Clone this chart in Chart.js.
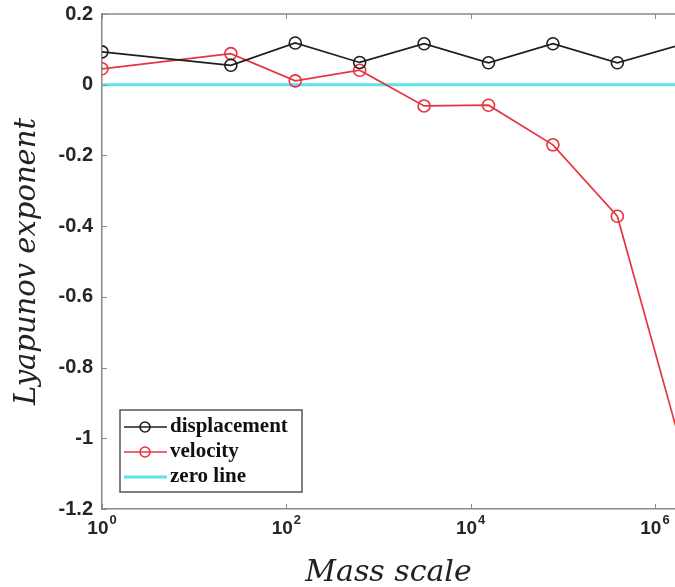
<!DOCTYPE html>
<html>
<head>
<meta charset="utf-8">
<script src="https://cdn.jsdelivr.net/npm/chart.js@4.4.1/dist/chart.umd.min.js"></script>
<style>
  html, body { margin: 0; padding: 0; background: #ffffff; overflow: hidden; }
  #wrap { width: 675px; height: 587px; }
</style>
</head>
<body>
<div id="wrap"><canvas id="c" width="675" height="587"></canvas></div>
<script>
// ---- data ----
const massScale    = [1, 25, 125, 625, 3125, 15625, 78125, 390625, 1953125];
const displacement = [0.093, 0.055, 0.118, 0.063, 0.116, 0.062, 0.116, 0.062, 0.114];
const velocity     = [0.045, 0.088, 0.011, 0.041, -0.060, -0.058, -0.170, -0.372, -1.027];
const zeroLineX    = [1, 1953125];
const zeroLineY    = [0, 0];
const seriesNames  = ['displacement', 'velocity', 'zero line'];

const xTicks      = [1, 100, 10000, 1000000];
const xTickBase   = '10';
const xTickExps   = ['0', '2', '4', '6'];
const yTicks      = [0.2, 0, -0.2, -0.4, -0.6, -0.8, -1, -1.2];
const yTickLabels = ['0.2', '0', '-0.2', '-0.4', '-0.6', '-0.8', '-1', '-1.2'];
const xMin = 1, xMax = 1.65e6;
const yMin = -1.2, yMax = 0.2;

const AXIS_COLOR = '#8a8a8a';
const TEXT_COLOR = '#262626';

const toPts = (xs, ys) => xs.map((x, i) => ({ x: x, y: ys[i] }));

// inward ticks + top frame line (MATLAB style box)
const framePlugin = {
  id: 'frame',
  afterDatasetsDraw(chart) {
    const { ctx, chartArea: ca, scales: { x, y } } = chart;
    ctx.save();
    ctx.strokeStyle = AXIS_COLOR;
    ctx.lineWidth = 1.5;
    ctx.beginPath();
    ctx.moveTo(ca.left, ca.top);
    ctx.lineTo(ca.right, ca.top);
    ctx.stroke();
    ctx.lineWidth = 1;
    ctx.beginPath();
    const L = 5;
    xTicks.forEach(v => {
      const px = Math.round(x.getPixelForValue(v)) + 0.5;
      ctx.moveTo(px, ca.bottom); ctx.lineTo(px, ca.bottom - L);
      ctx.moveTo(px, ca.top); ctx.lineTo(px, ca.top + L);
    });
    yTicks.forEach(v => {
      const py = Math.round(y.getPixelForValue(v)) + 0.5;
      ctx.moveTo(ca.left, py); ctx.lineTo(ca.left + L, py);
    });
    ctx.stroke();

    // x tick labels as 10 with a raised exponent
    const baseFont = 'bold 19px "Liberation Sans", Arial, sans-serif';
    const expFont = 'bold 13px "Liberation Sans", Arial, sans-serif';
    ctx.fillStyle = TEXT_COLOR;
    ctx.textBaseline = 'alphabetic';
    ctx.textAlign = 'left';
    xTicks.forEach((v, i) => {
      const px = x.getPixelForValue(v);
      ctx.font = baseFont;
      const w1 = ctx.measureText(xTickBase).width;
      ctx.font = expFont;
      const w2 = ctx.measureText(xTickExps[i]).width;
      const x0 = px - (w1 + w2 + 1) / 2;
      ctx.font = baseFont;
      ctx.fillText(xTickBase, x0, ca.bottom + 25);
      ctx.font = expFont;
      ctx.fillText(xTickExps[i], x0 + w1 + 1, ca.bottom + 15);
    });
    ctx.restore();
  }
};

// boxed legend in the lower-left of the plot, line + marker samples
const boxLegendPlugin = {
  id: 'boxLegend',
  afterDraw(chart) {
    const { ctx, chartArea: ca } = chart;
    const bx = ca.left + 18, by = ca.bottom - 99, bw = 182, bh = 82;
    ctx.save();
    ctx.fillStyle = '#ffffff';
    ctx.fillRect(bx, by, bw, bh);
    ctx.strokeStyle = '#555555';
    ctx.lineWidth = 1.5;
    ctx.strokeRect(bx, by, bw, bh);
    const rows = [by + 17, by + 42, by + 67];
    chart.data.datasets.forEach((ds, i) => {
      const yy = rows[i];
      ctx.strokeStyle = ds.borderColor;
      ctx.lineWidth = ds.borderWidth;
      ctx.beginPath();
      ctx.moveTo(bx + 4, yy);
      ctx.lineTo(bx + 47, yy);
      ctx.stroke();
      if (ds.pointRadius > 0) {
        ctx.lineWidth = ds.pointBorderWidth;
        ctx.beginPath();
        ctx.arc(bx + 25, yy, 5, 0, Math.PI * 2);
        ctx.stroke();
      }
      ctx.fillStyle = '#111111';
      ctx.font = 'bold 21px "Liberation Serif", "Times New Roman", serif';
      ctx.textAlign = 'left';
      ctx.textBaseline = 'middle';
      ctx.fillText(ds.label, bx + 50, yy);
    });
    ctx.restore();
  }
};

const tickFont = { family: '"Liberation Sans", Arial, sans-serif', size: 20, weight: 'bold' };

new Chart(document.getElementById('c'), {
  type: 'line',
  data: {
    datasets: [
      {
        label: seriesNames[0],
        data: toPts(massScale, displacement),
        borderColor: '#1e1e1e',
        backgroundColor: 'rgba(0,0,0,0)',
        borderWidth: 1.7,
        pointRadius: 6,
        pointBorderWidth: 1.6,
        pointBorderColor: '#1e1e1e',
        pointBackgroundColor: 'rgba(0,0,0,0)',
        tension: 0
      },
      {
        label: seriesNames[1],
        data: toPts(massScale, velocity),
        borderColor: '#e63440',
        backgroundColor: 'rgba(0,0,0,0)',
        borderWidth: 1.7,
        pointRadius: 6,
        pointBorderWidth: 1.6,
        pointBorderColor: '#e63440',
        pointBackgroundColor: 'rgba(0,0,0,0)',
        tension: 0
      },
      {
        label: seriesNames[2],
        data: toPts(zeroLineX, zeroLineY),
        borderColor: '#5fe3e8',
        backgroundColor: 'rgba(0,0,0,0)',
        borderWidth: 3,
        pointRadius: 0,
        pointBorderWidth: 0,
        tension: 0
      }
    ]
  },
  options: {
    responsive: false,
    animation: false,
    devicePixelRatio: 1,
    layout: { autoPadding: false, padding: { top: 14, left: 0, right: 0, bottom: 0 } },
    plugins: {
      legend: { display: false },
      tooltip: { enabled: false }
    },
    scales: {
      x: {
        type: 'logarithmic',
        min: xMin,
        max: xMax,
        afterBuildTicks: s => { s.ticks = xTicks.map(v => ({ value: v, major: true })); },
        afterFit: s => { s.height = 78; s.paddingLeft = 0; s.paddingRight = 0; },
        ticks: { display: false, autoSkip: false },
        grid: { display: false, drawTicks: false },
        border: { display: true, color: AXIS_COLOR, width: 1.5 },
        title: {
          display: true,
          text: 'Mass scale',
          color: '#222222',
          font: { family: '"DejaVu Serif", serif', style: 'italic', size: 30, weight: 'normal' },
          padding: { top: 0, bottom: -4 }
        }
      },
      y: {
        type: 'linear',
        min: yMin,
        max: yMax,
        afterBuildTicks: s => { s.ticks = yTicks.map(v => ({ value: v })); },
        afterFit: s => { s.width = 102; s.paddingTop = 0; s.paddingBottom = 0; },
        ticks: {
          callback: (v, i) => yTickLabels[i],
          font: tickFont,
          color: TEXT_COLOR,
          padding: 9,
          autoSkip: false
        },
        grid: { display: false, drawTicks: false },
        border: { display: true, color: AXIS_COLOR, width: 1.5 },
        title: {
          display: true,
          text: 'Lyapunov exponent',
          color: '#222222',
          font: { family: '"DejaVu Serif", serif', style: 'italic', size: 29, weight: 'normal' },
          padding: { top: 10, bottom: 0 }
        }
      }
    }
  },
  plugins: [framePlugin, boxLegendPlugin]
});
</script>
</body>
</html>
